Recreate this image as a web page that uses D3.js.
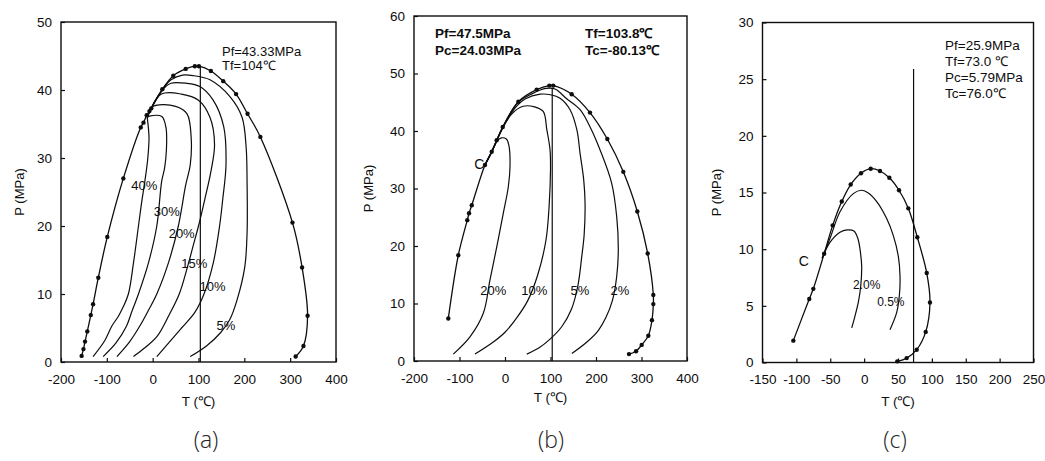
<!DOCTYPE html>
<html><head><meta charset="utf-8">
<script src="https://cdn.jsdelivr.net/npm/d3@7"></script>
<style>body{margin:0;background:#fff} svg{display:block}</style>
</head><body>
<svg id="chart" width="1045" height="461"></svg>
<script>
// ---------------- DATA ----------------
// Panel (a)
const aXTicks = [-200, -100, 0, 100, 200, 300, 400];
const aYTicks = [0, 10, 20, 30, 40, 50];
const aEnvelope = [[-155,0.9],[-151,1.9],[-147.6,3.0],[-142.6,4.5],[-135,6.9],[-130,8.5],[-118.6,12.4],[-99,18.4],[-64,27],[-26,34.5],[-20,35.2],[-13,36.3],[-7,36.9],[-3,37.3],[21,40.1],[45,42.1],[72,43.1],[92,43.5],[101,43.5],[127,42.8],[154,41.3],[182,39.4],[207,36.5],[235,33.1],[305,20.5],[326,13.9],[338,6.8],[329,2.35],[312,0.8]];
const aLine40 = [[-12,36],[-8,33],[-11,29.7],[-17,26.6],[-24,23.5],[-31,20],[-42,14.5],[-53,10],[-65,8],[-75,6.7],[-89,5.3],[-104,3.2],[-130,0.8]];
const aLine30 = [[-12,36],[-5,36.2],[20,36.1],[29,34.5],[30,31.2],[26,28.5],[19.7,26.6],[9,20],[-9.5,14.5],[-31,10],[-45,7.5],[-57,5.3],[-80,2.8],[-108,0.8]];
const aLine20 = [[-12,36],[1.4,37.6],[50,37.6],[75,36.5],[84,33],[82,29],[72,26],[56,20],[34,14.5],[9,10],[-10,7.5],[-28,5.3],[-50,3],[-78,0.8]];
const aLine15 = [[-12,36],[19,39.4],[63,39.4],[100,38.5],[125,36],[135,32],[127,28],[114,24],[100,20],[88,17],[76,14],[58,10],[35,6.8],[10,3.8],[-15,2.2],[-42,0.8]];
const aLine10 = [[-12,36],[5,38.3],[25,40.3],[40,41],[72,41],[103,40.5],[132,38.5],[155,34.6],[160,29],[153,24],[146,20],[132,14.5],[112,10],[92,7.3],[63,5],[35,2.8],[9,0.8]];
const aLine5 = [[-12,36],[5,38.4],[25,40.4],[40,41.5],[65,42.2],[90,42.1],[125,41.5],[169,39],[195,36],[204,31.5],[206,26.3],[206,19],[201,14],[184,9.1],[168,6.2],[148,4.3],[118,2.4],[82,0.8]];
const aLabels = ["40%", "30%", "20%", "15%", "10%", "5%"];
const aLabelAt = [[-18.5,25.9],[30.6,22.1],[63.3,18.9],[90.6,14.5],[130.6,11.1],[159.6,5.4]];
const aFocus = [104, 43.33];
const aNotes = ["Pf=43.33MPa", "Tf=104\u2103"];

// Panel (b)
const bXTicks = [-200, -100, 0, 100, 200, 300, 400];
const bYTicks = [0, 10, 20, 30, 40, 50, 60];
const bEnvelope = [[-124.6,7.4],[-102.6,18.4],[-82.9,24.5],[-79,25.7],[-73,27.1],[-44,34.1],[-29.2,36.4],[-18.3,38.4],[-5,40.7],[29.3,45.1],[69.7,47.2],[97.4,47.9],[106,47.9],[146.6,46.4],[186.8,43.2],[224.9,38.6],[260,32.9],[290.8,26],[313.6,18.7],[326,11.5],[326,9.9],[323,7.1],[315,4.4],[300.4,2.8],[288,1.7],[272.5,1.2]];
const bLine20 = [[-44,34.1],[-29,36.4],[-18,38.2],[-8,38.8],[3,38.6],[9,37.3],[11,33.8],[7.3,30.3],[-3.7,25.7],[-18,19.9],[-33,14.1],[-47.7,8.3],[-77,4.2],[-113.6,1.2]];
const bLine10 = [[-44,34.1],[-29,36.4],[-5,40.5],[15,43],[40,44.3],[65,44.2],[84,43.4],[92,40.2],[99,36.7],[100,33.2],[97,27],[90,21],[72,15],[50,10.5],[25.7,7.5],[0,5],[-25.7,3.3],[-66,1.2]];
const bLine5 = [[-44,34.1],[-29,36.4],[-5,40.6],[20,43.8],[45,45.6],[77,46.4],[100,46.3],[121,45.7],[143,43.7],[158,40.2],[165,36.1],[173,31.5],[176,27.4],[174,22],[168.6,18.1],[160,13],[146,9],[125,6],[99,3.8],[75,2.3],[48,1.2]];
const bLine2 = [[-44,34.1],[-29,36.4],[-5,40.65],[29,45],[60,46.5],[90,47.4],[110,47.3],[135.6,45.6],[165,43.7],[187,40.7],[209,36.7],[234.5,30.9],[245.5,25.1],[249,19.3],[245.5,14.7],[236,10.5],[222,7.6],[205,5.3],[180,3.3],[147,1.3]];
const bLabels = ["20%", "10%", "5%", "2%", "C"];
const bLabelAt = [[-25.7,12.2],[64.2,12.2],[164.8,12.2],[252.7,12.2],[-56.7,34.3]];
const bFocus = [103.8, 47.5];
const bNotesLeft = ["Pf=47.5MPa", "Pc=24.03MPa"];
const bNotesRight = ["Tf=103.8\u2103", "Tc=-80.13\u2103"];

// Panel (c)
const cXTicks = [-150, -100, -50, 0, 50, 100, 150, 200, 250];
const cYTicks = [0, 5, 10, 15, 20, 25, 30];
const cEnvelope = [[-104.5,1.93],[-81,5.6],[-75,6.5],[-59,9.6],[-46.4,12.1],[-33,14.2],[-19.8,15.7],[-4.6,16.7],[9.7,17.1],[23.4,16.9],[37.2,16.3],[51.5,15.2],[65.2,13.6],[78.5,11.05],[92.4,7.9],[97.2,5.3],[90.9,2.7],[77.6,1.13],[62.8,0.39],[49,0.1]];
const cLine20 = [[-62,9.2],[-50.4,10.6],[-35.6,11.5],[-25,11.7],[-15,11.6],[-9,10.9],[-5,9.5],[-3.6,8.5],[-5,6.75],[-8.6,5.3],[-13.5,4.1],[-18.3,3.05]];
const cLine05 = [[-62,9.2],[-50,11],[-35.6,13.3],[-16,14.9],[-4,15.2],[5,15],[18.6,14.2],[33.3,12.7],[43.1,11.2],[50.4,9.4],[53,7.6],[52,5.9],[48,4.4],[38.2,2.9]];
const cLabels = ["2.0%", "0.5%", "C"];
const cLabelAt = [[3.8,6.8],[39.4,5.3],[-89.2,9.0]];
const cFocus = [73, 25.9];
const cNotes = ["Pf=25.9MPa", "Tf=73.0 \u2103", "Pc=5.79MPa", "Tc=76.0\u2103"];

const captions = ["(a)", "(b)", "(c)"];
const xTitle = "T (\u2103)";
const yTitle = "P (MPa)";

// ---------------- DRAWING ----------------
const FONT = '"Liberation Sans", Arial, Helvetica, sans-serif';
const INK = "#0d0d0d";
const svg = d3.select("#chart");

function drawPanel(p) {
  const x = d3.scaleLinear().domain(p.xDomain).range([p.left, p.right]);
  const y = d3.scaleLinear().domain(p.yDomain).range([p.bottom, p.top]);
  const g = svg.append("g");

  const xa = d3.axisBottom(x).tickValues(p.xTicks).tickSizeInner(-4).tickSizeOuter(0)
    .tickPadding(12).tickFormat(d => String(d));
  const gx = g.append("g").attr("transform", `translate(0,${p.bottom})`).call(xa);
  const ya = d3.axisLeft(y).tickValues(p.yTicks).tickSizeInner(-4).tickSizeOuter(0)
    .tickPadding(9).tickFormat(d => String(d));
  const gy = g.append("g").attr("transform", `translate(${p.left},0)`).call(ya);
  [gx, gy].forEach(a => {
    a.select(".domain").remove();
    a.attr("font-family", FONT).attr("font-size", 13.5);
    a.selectAll("line").attr("stroke", INK).attr("stroke-width", 1.2);
    a.selectAll("text").attr("fill", INK);
  });

  g.append("rect").attr("x", p.left).attr("y", p.top)
    .attr("width", p.right - p.left).attr("height", p.bottom - p.top)
    .attr("fill", "none").attr("stroke", INK).attr("stroke-width", 1.4);

  const line = d3.line().x(d => x(d[0])).y(d => y(d[1])).curve(d3.curveCatmullRom.alpha(0.5));

  p.lines.forEach(L => {
    g.append("path").attr("d", line(L)).attr("fill", "none")
      .attr("stroke", INK).attr("stroke-width", 1.2);
  });
  g.append("path").attr("d", line(p.envelope)).attr("fill", "none")
    .attr("stroke", INK).attr("stroke-width", 1.3);
  g.selectAll("circle.m").data(p.envelope).enter().append("circle")
    .attr("cx", d => x(d[0])).attr("cy", d => y(d[1])).attr("r", 2.2).attr("fill", INK);

  // focus vertical line
  g.append("line").attr("x1", x(p.focus[0])).attr("x2", x(p.focus[0]))
    .attr("y1", y(0)).attr("y2", y(p.focus[1])).attr("stroke", INK).attr("stroke-width", 1.2);

  // curve labels
  p.labels.forEach((t, i) => {
    const big = t === "C";
    g.append("text").attr("x", x(p.labelAt[i][0])).attr("y", y(p.labelAt[i][1]))
      .attr("text-anchor", "middle").attr("dominant-baseline", "central")
      .attr("font-family", FONT).attr("font-size", big ? 14 : p.labelSize)
      .attr("fill", INK).text(t);
  });

  // axis titles
  g.append("text").attr("x", (p.left + p.right) / 2).attr("y", p.xTitleY)
    .attr("text-anchor", "middle").attr("font-family", FONT).attr("font-size", 13.5)
    .attr("fill", INK).text(xTitle);
  g.append("text").attr("transform", `translate(${p.yTitleX},${(p.top + p.bottom) / 2}) rotate(-90)`)
    .attr("text-anchor", "middle").attr("dominant-baseline", "central")
    .attr("font-family", FONT).attr("font-size", 13).attr("fill", INK).text(yTitle);

  // notes
  p.notes.forEach(n => {
    n.lines.forEach((t, i) => {
      g.append("text").attr("x", n.x).attr("y", n.y + i * n.dy)
        .attr("font-family", FONT).attr("font-size", n.size)
        .attr("font-weight", n.bold ? "bold" : "normal").attr("fill", INK).text(t);
    });
  });

  // caption
  svg.append("text").attr("x", p.capX).attr("y", 448).attr("text-anchor", "middle")
    .attr("font-family", '"Open Sans", "Noto Sans", sans-serif').attr("font-weight", 300)
    .attr("font-size", 23).attr("fill", "#222").text(p.caption);
}

drawPanel({
  left: 61, right: 336, top: 22, bottom: 362, xDomain: [-200, 400], yDomain: [0, 50],
  xTicks: aXTicks, yTicks: aYTicks, envelope: aEnvelope,
  lines: [aLine40, aLine30, aLine20, aLine15, aLine10, aLine5],
  labels: aLabels, labelAt: aLabelAt, labelSize: 13, focus: aFocus,
  xTitleY: 406, yTitleX: 19,
  notes: [{x: 222, y: 56, dy: 14, size: 13, bold: false, lines: aNotes}],
  capX: 206, caption: captions[0]
});
drawPanel({
  left: 414, right: 687, top: 16, bottom: 361, xDomain: [-200, 400], yDomain: [0, 60],
  xTicks: bXTicks, yTicks: bYTicks, envelope: bEnvelope,
  lines: [bLine20, bLine10, bLine5, bLine2],
  labels: bLabels, labelAt: bLabelAt, labelSize: 13, focus: bFocus,
  xTitleY: 402, yTitleX: 368,
  notes: [{x: 435, y: 38, dy: 17, size: 13.5, bold: true, lines: bNotesLeft},
          {x: 585, y: 38, dy: 17, size: 13.5, bold: true, lines: bNotesRight}],
  capX: 551, caption: captions[1]
});
drawPanel({
  left: 762.5, right: 1033.5, top: 22.5, bottom: 362.5, xDomain: [-150, 250], yDomain: [0, 30],
  xTicks: cXTicks, yTicks: cYTicks, envelope: cEnvelope,
  lines: [cLine20, cLine05],
  labels: cLabels, labelAt: cLabelAt, labelSize: 12, focus: cFocus,
  xTitleY: 406, yTitleX: 716,
  notes: [{x: 945, y: 50, dy: 16, size: 13.5, bold: false, lines: cNotes}],
  capX: 895, caption: captions[2]
});
</script>
</body></html>
